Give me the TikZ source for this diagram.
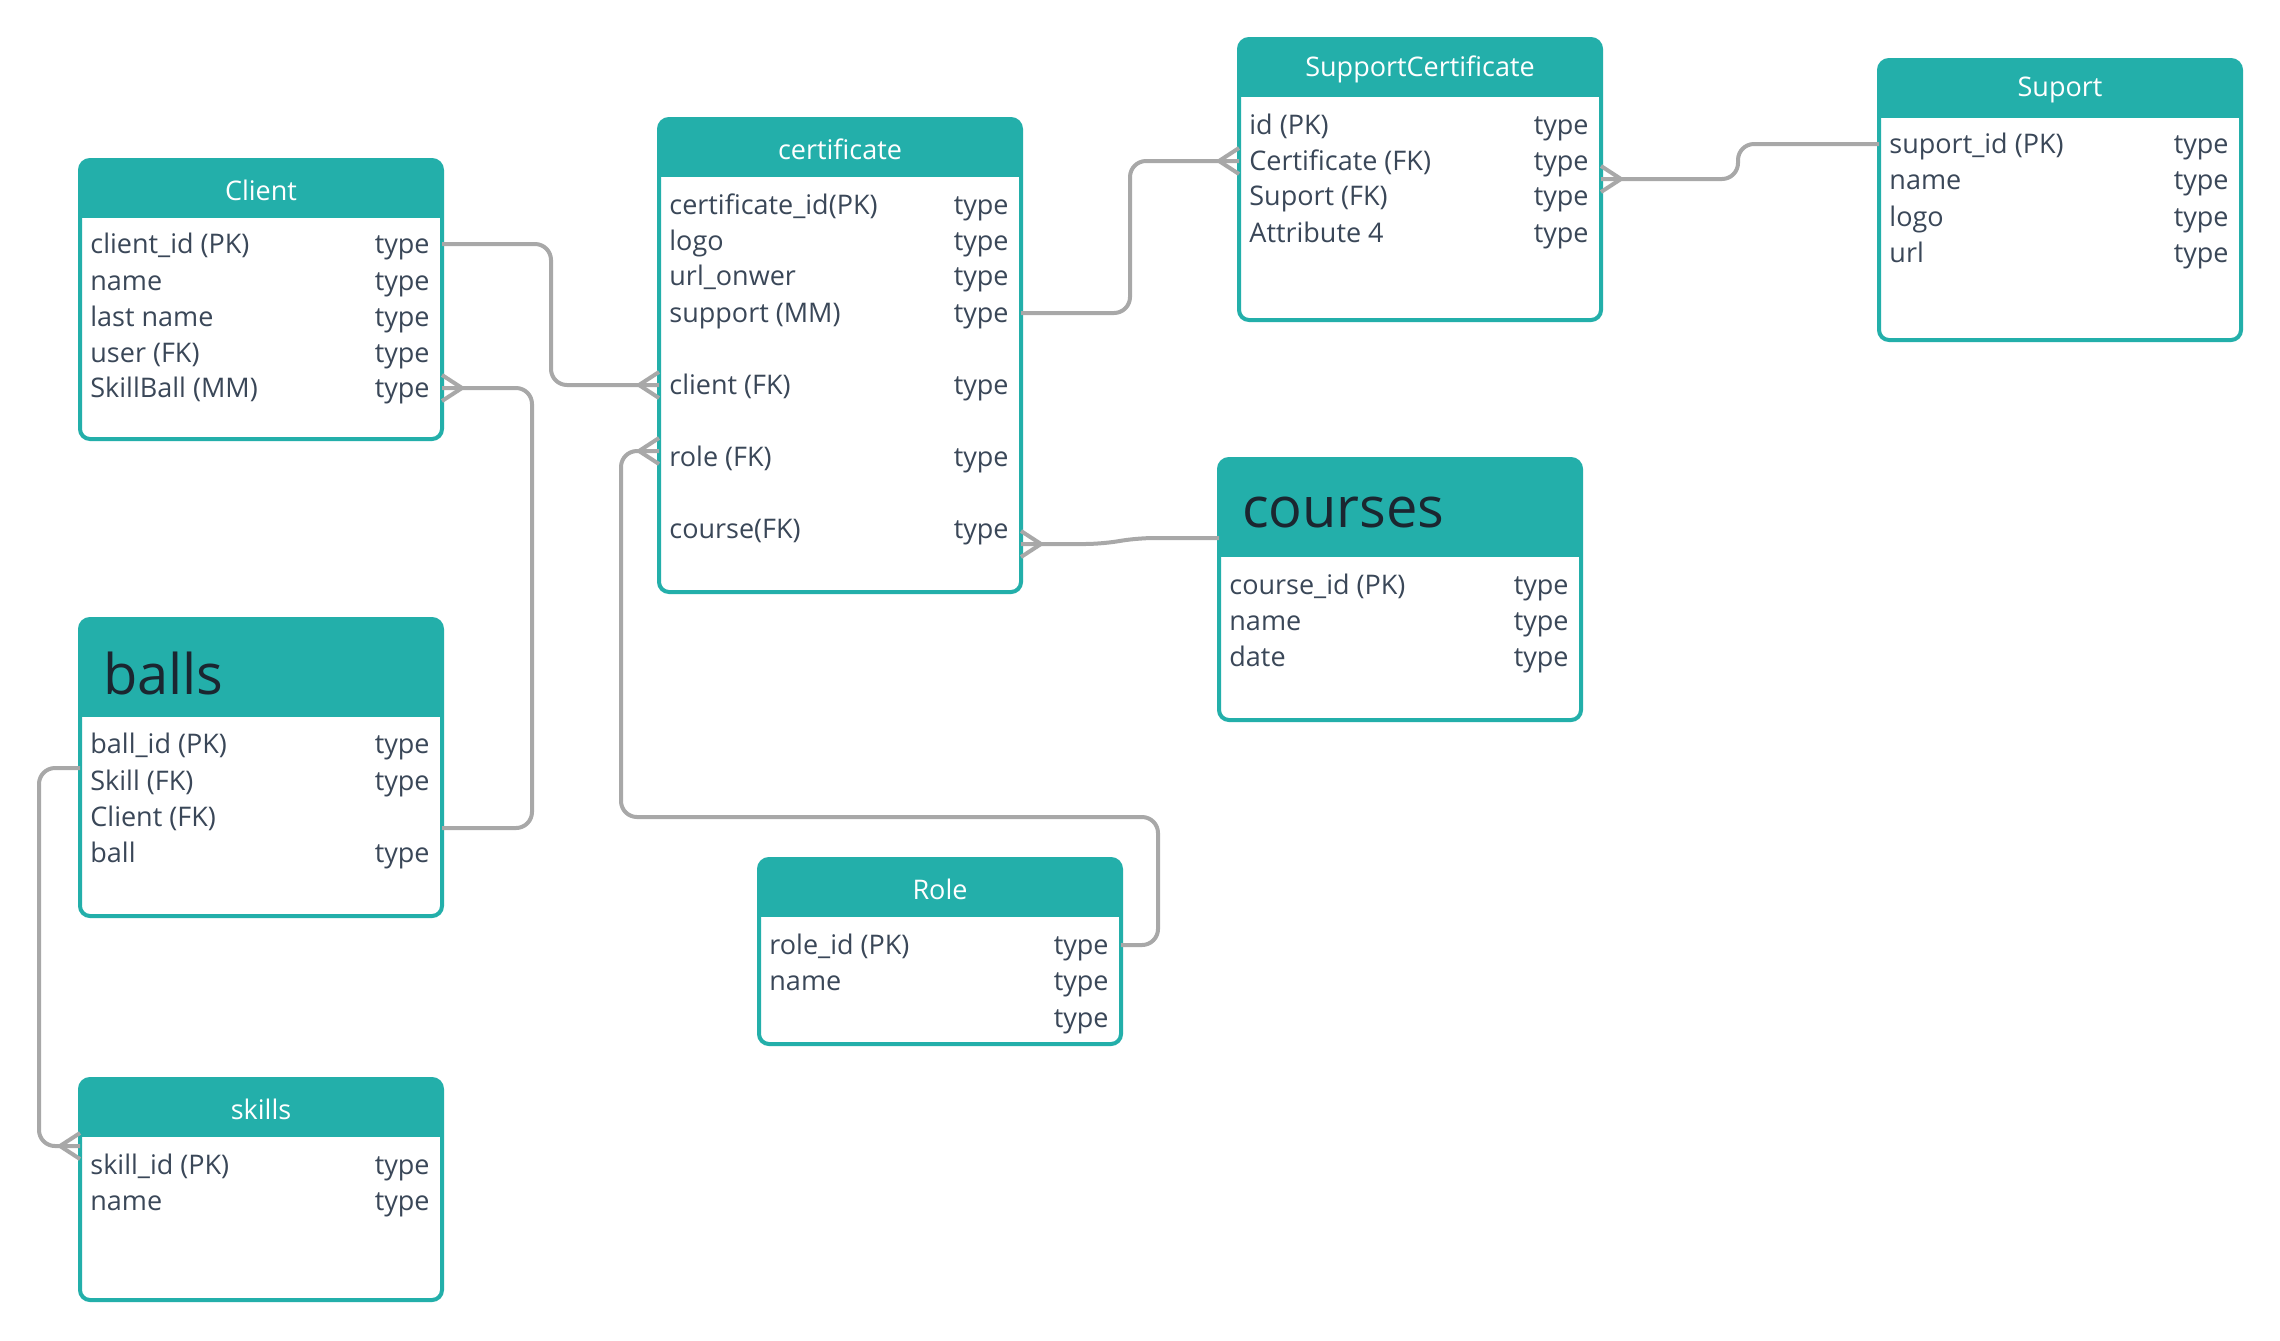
\documentclass[tikz,border=0pt]{standalone}
\usepackage{fontspec}
\setmainfont{Open Sans}
\usetikzlibrary{calc}

\definecolor{erteal}{HTML}{23AFAA}
\definecolor{ergray}{HTML}{A8A8A8}
\definecolor{ertext}{HTML}{3A4758}
\definecolor{erdark}{HTML}{1B2630}

% table: [title style]{name}{x}{y}{height}{header height}{title}
\newcommand{\ertable}[7][htitle]{%
  \def\tblx{#3}%
  \node[tbox, anchor=north west, minimum height=#5*0.5pt] (#2) at (#3,#4) {};
  \begin{scope}
    \clip[rounded corners=5pt] (#2.north west) rectangle (#2.south east);
    \fill[erteal] (#2.north west) rectangle ([yshift=-#6*0.5pt]#2.north east);
  \end{scope}
  \draw[tframe] (#2.north west) rectangle (#2.south east);
  \node[#1] (#2-title) at ([yshift=-#6*0.25pt]#2.north west) {#7};
}
% row: {name}{y}{field}{type}
\newcommand{\erfield}[4]{%
  \node[fname] (#1) at (\tblx+10,#2) {#3};
  \node[ftype] (#1-type) at (\tblx+350,#2) {#4};
}

\begin{document}
\begin{tikzpicture}[x=0.5pt, y=-0.5pt,
  tbox/.style={rectangle, inner sep=0pt, outer sep=0pt, minimum width=181pt, fill=white},
  tframe/.style={draw=erteal, line width=2pt, rounded corners=5pt},
  htitle/.style={text=white, font=\fontsize{13.5}{16}\selectfont, xshift=90.5pt, yshift=-0.5pt},
  bigtitle/.style={anchor=west, text=erdark, font=\fontsize{28}{34}\selectfont, xshift=8pt, yshift=-2.5pt},
  fname/.style={anchor=west, text=ertext, font=\fontsize{13.5}{16}\selectfont,
                inner sep=0pt, text height=9.6pt, text depth=0pt},
  ftype/.style={fname, anchor=east},
  conn/.style={draw=ergray, line width=2pt, rounded corners=8pt},
  crow/.pic={\draw[conn, sharp corners] (0,-13) -- (-20,0) -- (0,13);}
]
  \fill[white] (0,0) rectangle (2280,1340);

  % Tables
  \ertable{client}{80}{160}{279}{58}{Client}
  \erfield{cl-id}{244}{client\_id (PK)}{type}
  \erfield{cl-name}{281}{name}{type}
  \erfield{cl-last}{317}{last name}{type}
  \erfield{cl-user}{353}{user (FK)}{type}
  \erfield{cl-skillball}{388}{SkillBall (MM)}{type}

  \ertable{cert}{659}{119}{473}{58}{certificate}
  \erfield{ce-id}{205}{certificate\_id(PK)}{type}
  \erfield{ce-logo}{241}{logo}{type}
  \erfield{ce-url}{276}{url\_onwer}{type}
  \erfield{ce-support}{313}{support (MM)}{type}
  \erfield{ce-client}{385}{client (FK)}{type}
  \erfield{ce-role}{457}{role (FK)}{type}
  \erfield{ce-course}{529}{course(FK)}{type}

  \ertable{supcert}{1239}{39}{281}{58}{SupportCertificate}
  \erfield{sc-id}{125}{id (PK)}{type}
  \erfield{sc-cert}{161}{Certificate (FK)}{type}
  \erfield{sc-sup}{196}{Suport (FK)}{type}
  \erfield{sc-attr}{233}{Attribute 4}{type}

  \ertable{suport}{1879}{60}{280}{58}{Suport}
  \erfield{su-id}{144}{suport\_id (PK)}{type}
  \erfield{su-name}{180}{name}{type}
  \erfield{su-logo}{217}{logo}{type}
  \erfield{su-url}{253}{url}{type}

  \ertable[bigtitle]{courses}{1219}{459}{261}{98}{courses}
  \erfield{co-id}{585}{course\_id (PK)}{type}
  \erfield{co-name}{621}{name}{type}
  \erfield{co-date}{657}{date}{type}

  \ertable[bigtitle]{balls}{80}{619}{297}{98}{balls}
  \erfield{ba-id}{744}{ball\_id (PK)}{type}
  \erfield{ba-skill}{781}{Skill (FK)}{type}
  \erfield{ba-client}{817}{Client (FK)}{}
  \erfield{ba-ball}{853}{ball}{type}

  \ertable{role}{759}{859}{185}{58}{Role}
  \erfield{ro-id}{945}{role\_id (PK)}{type}
  \erfield{ro-name}{981}{name}{type}
  \erfield{ro-extra}{1018}{}{type}

  \ertable{skills}{80}{1079}{221}{58}{skills}
  \erfield{sk-id}{1165}{skill\_id (PK)}{type}
  \erfield{sk-name}{1201}{name}{type}

  % Relations
  \draw[conn] (client.east |- cl-id) -- ++(109,0) |- (cert.west |- ce-client);
  \pic at (cert.west |- ce-client) {crow};

  \draw[conn] ($(balls.east |- ba-client)+(0,11)$) -- ++(90,0) |- (client.east |- cl-skillball);
  \pic[rotate=180] at (client.east |- cl-skillball) {crow};

  \draw[conn] ($(balls.west |- ba-skill)+(0,-13)$) -- ++(-41,0) |- ($(skills.west |- sk-id)+(0,-19)$);
  \pic at ($(skills.west |- sk-id)+(0,-19)$) {crow};

  \draw[conn] (role.east |- ro-id) -- ++(37,0) -- ++(0,-128) -- ++(-537,0)
    |- ($(cert.west |- ce-role)+(0,-6)$);
  \pic at ($(cert.west |- ce-role)+(0,-6)$) {crow};

  \draw[conn] (cert.east |- ce-support) -- ++(109,0) |- (supcert.west |- sc-cert);
  \pic at (supcert.west |- sc-cert) {crow};

  \draw[conn] ($(supcert.east |- sc-cert)+(0,18)$) -- ++(137,0) |- (suport.west |- su-id);
  \pic[rotate=180] at ($(supcert.east |- sc-cert)+(0,18)$) {crow};

  \draw[conn] ($(cert.east |- ce-course)+(0,15)$) -- ++(80,0) -- ++(37,-6)
    -- ($(courses.west |- co-id)+(0,-47)$);
  \pic[rotate=180] at ($(cert.east |- ce-course)+(0,15)$) {crow};
\end{tikzpicture}
\end{document}
